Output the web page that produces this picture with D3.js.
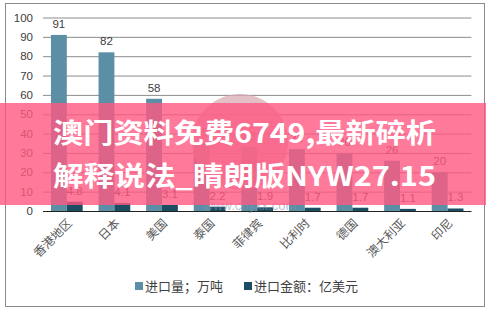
<!DOCTYPE html>
<html><head><meta charset="utf-8">
<script src="https://cdn.jsdelivr.net/npm/d3@7/dist/d3.min.js"></script>
<style>
html,body{margin:0;padding:0;background:#fff;}
svg{display:block;font-family:"Liberation Sans","Noto Sans CJK SC",Arial,sans-serif;}
</style></head>
<body>
<script>
const categories = ["香港地区","日本","美国","泰国","菲律宾","比利时","德国","澳大利亚","印尼"];
const seriesNames = ["进口量；万吨","进口金额：亿美元"];
const volume = [91, 82, 58, 35, 33, 32, 30, 26, 20];
const amount = [4.8, 4.1, 3.1, 2.2, 1.9, 1.7, 1.7, 1.1, 1.3];
const yTicks = [0,10,20,30,40,50,60,70,80,90,100];
const colors = ["#5b8fa6", "#1c4e63"];
const bannerLines = ["澳门资料免费6749,最新碎析", "解释说法_睛朗版NYW27.15"];

const W = 488, H = 311;
const svg = d3.select("body").append("svg").attr("width", W).attr("height", H);

// outer border
svg.append("rect").attr("x",5.5).attr("y",3.5).attr("width",479).attr("height",303)
  .attr("fill","#fff").attr("stroke","#8a8a8a").attr("stroke-width",1);

const x0 = d3.scaleBand().domain(categories).range([43, 471.4]).padding(0);
const x1 = d3.scaleBand().domain([0,1]).range([0, x0.bandwidth()]).paddingInner(0).paddingOuter(0.5);
const y = d3.scaleLinear().domain([0,100]).range([211, 17.5]);

// gridlines
const gAxis = svg.append("g").attr("transform","translate(43,0)")
  .call(d3.axisLeft(y).tickValues(yTicks).tickSize(-(471.4-43)).tickPadding(10));
gAxis.select(".domain").remove();
gAxis.selectAll(".tick line").attr("stroke","#8c8c8c").attr("stroke-width",1);
gAxis.selectAll(".tick text").attr("fill","#404040").attr("font-size","11.5px")
  .attr("font-family","Liberation Sans, Arial, sans-serif");

// bars
const data = categories.map((c,i)=>({c, vals:[volume[i], amount[i]]}));
const groups = svg.append("g").selectAll("g").data(data).join("g")
  .attr("transform", d=>`translate(${x0(d.c)},0)`);
groups.selectAll("rect").data(d=>d.vals.map((v,k)=>({v,k}))).join("rect")
  .attr("x", d=>x1(d.k)).attr("width", x1.bandwidth())
  .attr("y", d=>y(d.v)).attr("height", d=>y(0)-y(d.v))
  .attr("fill", d=>colors[d.k]);
groups.selectAll("text").data(d=>d.vals.map((v,k)=>({v,k}))).join("text")
  .attr("x", d=>x1(d.k)+x1.bandwidth()/2).attr("y", d=>y(d.v)-7)
  .attr("text-anchor","middle").attr("font-size","11.5px").attr("fill","#404040")
  .text(d=>d.v);

// baseline
svg.append("line").attr("x1",43).attr("x2",471.4).attr("y1",y(0)+0.5).attr("y2",y(0)+0.5)
  .attr("stroke","#222").attr("stroke-width",1.2);

// x labels rotated
svg.append("g").selectAll("text").data(categories).join("text")
  .attr("transform", d=>`translate(${x0(d)+x0.bandwidth()/2+6},${224}) rotate(-45)`)
  .attr("text-anchor","end").attr("font-size","12px").attr("fill","#595959")
  .attr("font-family","Noto Sans CJK SC, sans-serif")
  .text(d=>d);

// legend
const legX = [135, 244];
const leg = svg.append("g").selectAll("g").data(seriesNames).join("g")
  .attr("transform",(d,i)=>`translate(${legX[i]},282)`);
leg.append("rect").attr("width",8).attr("height",8).attr("fill",(d,i)=>colors[i]);
leg.append("text").attr("x",10).attr("y",8.5).attr("font-size","13px").attr("fill","#404040")
  .attr("font-family","Noto Sans CJK SC, sans-serif").text(d=>d);

// watermark logo
svg.append("circle").attr("cx",240).attr("cy",142).attr("r",48)
  .attr("fill","#d9a9b3").attr("opacity",0.75);
svg.append("text").attr("x",250).attr("y",210).attr("text-anchor","middle")
  .attr("font-size","13px").attr("fill","#7f95ad").attr("opacity",0.55)
  .attr("font-family","Liberation Sans, sans-serif").text("www.chyxx.com");

// banner overlay
svg.append("rect").attr("x",0).attr("y",103).attr("width",486).attr("height",102)
  .attr("fill","rgb(255,88,129)").attr("opacity",0.8);
svg.append("g").selectAll("text").data(bannerLines).join("text")
  .attr("x",53).attr("y",(d,i)=>143+i*43)
  .attr("font-size","27px").attr("font-weight","bold").attr("fill","#fff")
  .attr("font-family","Noto Sans CJK SC, sans-serif")
  .attr("textLength",383).attr("lengthAdjust","spacingAndGlyphs")
  .text(d=>d);
</script>
</body></html>
